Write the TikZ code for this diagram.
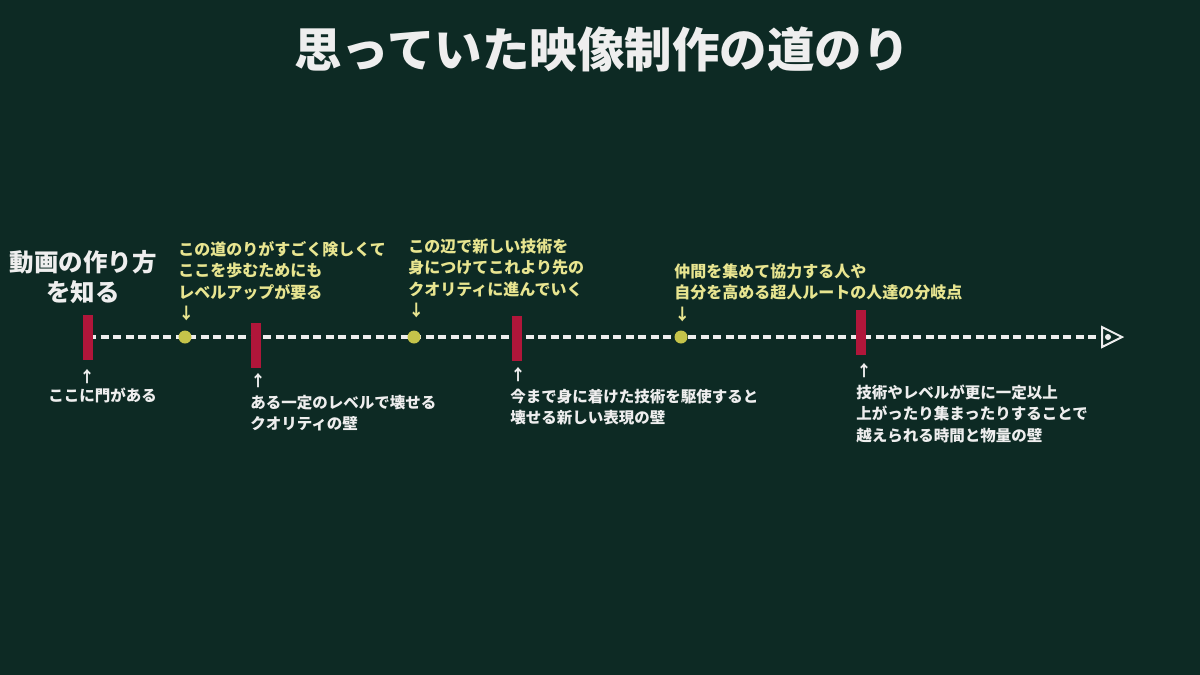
\documentclass[tikz,border=0pt]{standalone}
\usepackage{fontspec}
\setmainfont{Noto Sans CJK JP}
\usepackage{xcolor}
\usetikzlibrary{
		calc,
		positioning
	}
\definecolor{board}{HTML}{0D2A24}
\definecolor{wall}{HTML}{B0163A}
\definecolor{spot}{HTML}{C5C44A}
\definecolor{note}{HTML}{E8E590}
\definecolor{chalk}{HTML}{EEEEEE}
\tikzset{
		>=stealth,
		wallbar/.style={fill=wall, draw=none, minimum width=10pt, minimum height=45pt, inner sep=0pt},
		spotdot/.style={circle, fill=spot, draw=none, minimum size=13pt, inner sep=0pt},
		upper/.style={anchor=north west, inner sep=0pt, align=left, text=note,
			font=\bfseries\fontsize{16}{21.5}\selectfont},
		lower/.style={anchor=north west, inner sep=0pt, align=left, text=chalk,
			font=\bfseries\fontsize{15.5}{21.5}\selectfont}
	}
\begin{document}
\begin{tikzpicture}[thick, x=1pt, y=-1pt]
          \fill[board] (0,0) rectangle (1200,675);
          \useasboundingbox (0,0) rectangle (1200,675);

          \coordinate (start) at (88,337);
          \coordinate (finish) at (1108,337);
          \coordinate (tip) at (1122,337);

          \node[text=chalk, font=\bfseries\fontsize{47.5}{50}\selectfont] (title) at (602,50) {思っていた映像制作の道のり};
          \node[text=chalk, align=center, font=\bfseries\fontsize{24.5}{30}\selectfont] (start text) at (83,277) {動画の作り方\\を知る};

          \draw[chalk, line width=3.5pt, dash pattern=on 8pt off 4.5pt] (start) -- (finish);
          \draw[chalk, line width=2pt, fill=board] (1102,327) -- (tip) -- (1102,347) -- cycle;
          \fill[chalk] (finish) circle (3pt);

          \node[wallbar] (gate) at (87.5,337.5) {};
          \node[wallbar] (wall one) at (256,345.5) {};
          \node[wallbar] (wall two) at (517,338.5) {};
          \node[wallbar] (wall three) at (861,332.5) {};

          \node[spotdot] (step one) at (185,337) {};
          \node[spotdot] (step two) at (414,337) {};
          \node[spotdot] (step three) at (681,337) {};

          \node[upper] (note one) at (178,241) {この道のりがすごく険しくて\\ここを歩むためにも\\レベルアップが要る\\↓};
          \node[upper] (note two) at (408,238) {この辺で新しい技術を\\身につけてこれより先の\\クオリティに進んでいく\\↓};
          \node[upper] (note three) at (674,263) {仲間を集めて協力する人や\\自分を高める超人ルートの人達の分岐点\\↓};

          \node[text=chalk, font=\bfseries\fontsize{15.5}{21.5}\selectfont, inner sep=0pt] (gate arrow) at (87,377) {↑};
          \node[lower] (gate text) at (48,388) {ここに門がある};
          \node[lower] (wall one text) at (250,373) {↑\\ある一定のレベルで壊せる\\クオリティの壁};
          \node[lower] (wall two text) at (510,367) {↑\\今まで身に着けた技術を駆使すると\\壊せる新しい表現の壁};
          \node[lower] (wall three text) at (856,363) {↑\\技術やレベルが更に一定以上\\上がったり集まったりすることで\\越えられる時間と物量の壁};

          \end{tikzpicture}
\end{document}
